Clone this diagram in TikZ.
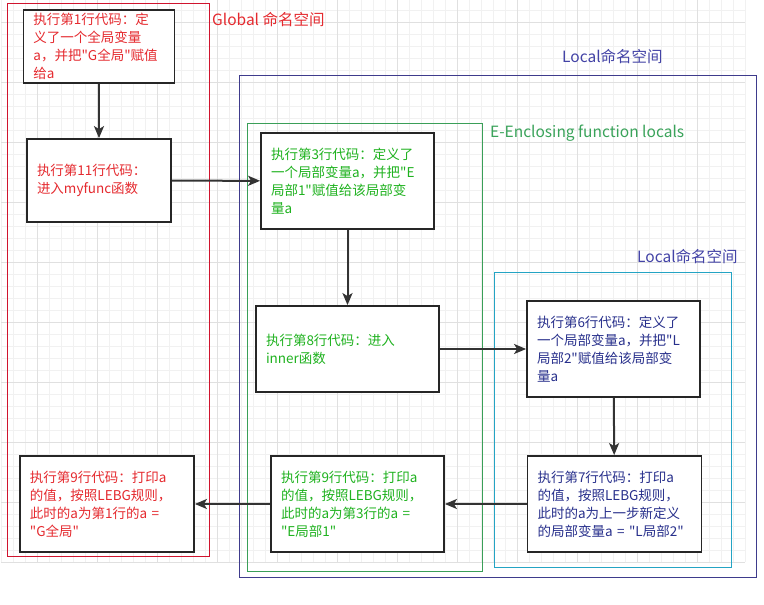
\documentclass[tikz,border=0pt]{standalone}
\usepackage{fontspec}
\setmainfont{Noto Sans CJK SC}[Ligatures=TeXOff]
\usetikzlibrary{arrows.meta}
\definecolor{gtext}{HTML}{E52A2F}
\definecolor{gframe}{HTML}{D0142E}
\definecolor{eframe}{HTML}{3A9F58}
\definecolor{etext}{HTML}{1FB21F}
\definecolor{elabel}{HTML}{3AA35A}
\definecolor{lframe}{HTML}{3E3B8C}
\definecolor{ltext}{HTML}{28308C}
\definecolor{llabel}{HTML}{4343A6}
\definecolor{cframe}{HTML}{24A4C4}
\definecolor{gridminor}{HTML}{F1F1F1}
\definecolor{gridmajor}{HTML}{E0E0E0}

\begin{document}
\begin{tikzpicture}[x=1pt,y=-1pt,
        codebox/.style={draw=black!85,line width=1.8pt,fill=white,align=left,
            inner xsep=10pt,inner ysep=0pt,font=\fontsize{13.5}{18}\selectfont},
        flow/.style={draw=black!80,line width=2pt,-{Stealth[length=12pt,width=10pt,inset=3pt]}},
        area/.style={line width=0.9pt},
        areatext/.style={anchor=west,inner sep=0pt,font=\fontsize{15.5}{18}\selectfont}]
            \useasboundingbox (0,0) rectangle (764,605);
            \fill[white] (0,0) rectangle (764,605);
            \foreach \gx in {1,13,...,745} \draw[gridminor,line width=0.6pt] (\gx,0) -- (\gx,562);
            \foreach \gy in {10,22,...,562} \draw[gridminor,line width=0.6pt] (1,\gy) -- (745,\gy);
            \foreach \gx in {37,97,...,697} \draw[gridmajor,line width=0.7pt] (\gx,0) -- (\gx,562);
            \foreach \gy in {22,82,...,562} \draw[gridmajor,line width=0.7pt] (1,\gy) -- (745,\gy);

            \draw[area,gframe] (7,3) rectangle (209,556);
            \draw[area,lframe] (239,75) rectangle (756,577);
            \draw[area,eframe] (247,123) rectangle (482,571);
            \draw[area,cframe] (494,272) rectangle (731,567);

            \node[areatext,text=gtext] (glabel) at (212,20) {Global 命名空间};
            \node[areatext,text=llabel] (llabel) at (562,57) {Local命名空间};
            \node[areatext,text=elabel] (elabel) at (490,133) {E-Enclosing function locals};
            \node[areatext,text=llabel] (ilabel) at (637,257) {Local命名空间};

            \node[codebox,text=gtext,text width=131pt,minimum height=73pt] (g1) at (99,46.5)
                {执行第1行代码：定\\义了一个全局变量\\a，并把"G全局"赋值\\给a};
            \node[codebox,text=gtext,text width=124pt,minimum height=83pt] (g2) at (99,180.5)
                {执行第11行代码：\\进入myfunc函数};
            \node[codebox,text=etext,text width=153pt,minimum height=96pt] (e1) at (347.5,181)
                {执行第3行代码：定义了\\一个局部变量a，并把"E\\局部1"赋值给该局部变\\量a};
            \node[codebox,text=etext,text width=163pt,minimum height=86pt] (e2) at (347.5,349)
                {执行第8行代码：进入\\inner函数};
            \node[codebox,text=ltext,text width=153pt,minimum height=96pt] (l1) at (613.5,349)
                {执行第6行代码：定义了\\一个局部变量a，并把"L\\局部2"赋值给该局部变\\量a};
            \node[codebox,text=ltext,text width=154pt,minimum height=96pt] (b3) at (614.5,504)
                {执行第7行代码：打印a\\的值，按照LEBG规则，\\此时的a为上一步新定义\\的局部变量a~=~"L局部2"};
            \node[codebox,text=etext,text width=153pt,minimum height=96pt] (b2) at (357.5,504)
                {执行第9行代码：打印a\\的值，按照LEBG规则，\\此时的a为第3行的a~=\\"E局部1"};
            \node[codebox,text=gtext,text width=154pt,minimum height=96pt] (b1) at (107,504)
                {执行第9行代码：打印a\\的值，按照LEBG规则，\\此时的a为第1行的a~=\\"G全局"};

            \draw[flow] (g1) -- (g2);
            \draw[flow] (g2) -- (e1);
            \draw[flow] (e1) -- (e2);
            \draw[flow] (e2) -- (l1);
            \draw[flow] (l1) -- (b3);
            \draw[flow] (b3) -- (b2);
            \draw[flow] (b2) -- (b1);
        \end{tikzpicture}
\end{document}
